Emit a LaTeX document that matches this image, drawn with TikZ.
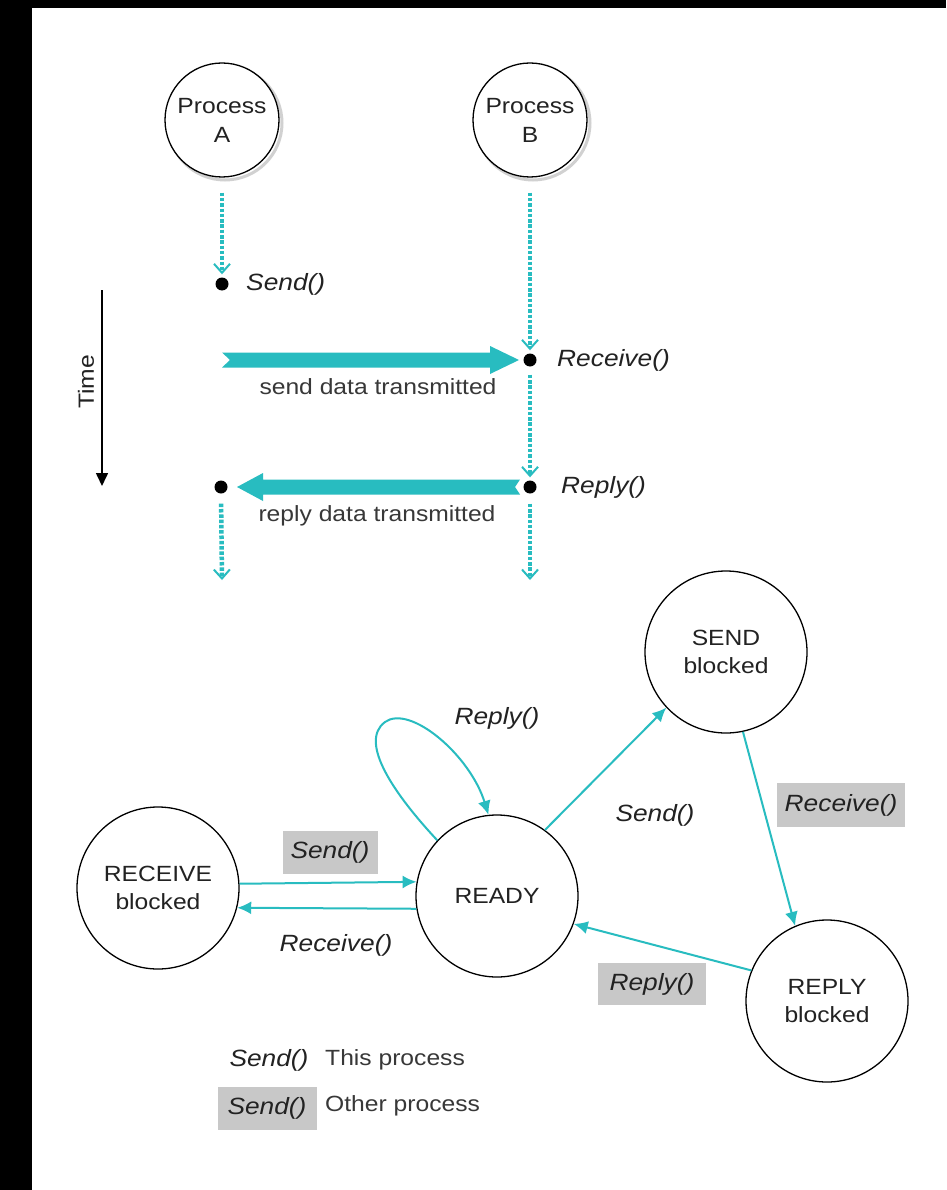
\documentclass[tikz,border=0pt]{standalone}
\usepackage{fontspec}
\setmainfont{Liberation Sans}[FakeStretch=1.12]
\usetikzlibrary{arrows.meta,calc}
\definecolor{flow}{RGB}{40,188,192}
\definecolor{ink}{RGB}{34,34,34}
\definecolor{tag}{RGB}{200,200,200}

\begin{document}
\begin{tikzpicture}[x=1pt,y=-1pt,
  proc/.style={circle,draw=black,line width=1.3pt,fill=white,minimum size=114pt,inner sep=0pt,
    align=center,font=\fontsize{22}{29}\selectfont,text=ink},
  state/.style={circle,draw=black,line width=1.3pt,fill=white,minimum size=162pt,inner sep=0pt,
    align=center,font=\fontsize{22}{28.5}\selectfont,text=ink},
  event/.style={circle,fill=black,inner sep=0pt,minimum size=13pt},
  call/.style={font=\fontsize{23.5}{26}\selectfont\itshape,text=ink,inner sep=0pt},
  othercall/.style={call,fill=tag,inner sep=0pt},
  note/.style={font=\fontsize{22}{26}\selectfont,text=ink!90,inner sep=0pt},
  timeline/.style={flow,line width=4.5pt,dash pattern=on 3.5pt off 1.8pt,
    -{Straight Barb[length=9pt,width=16pt,line width=2pt]}},
  transition/.style={flow,line width=2pt,-{Latex[length=14pt,width=13pt]}},
  shade/.style={draw=black!18,line width=3pt},
]
\useasboundingbox (0,0) rectangle (946,1190);
\fill[white] (0,0) rectangle (946,1190);
\fill[black] (0,0) rectangle (32,1190);
\fill[black] (0,0) rectangle (946,8);

% ---------- message passing over time ----------
\draw[shade] (225,123) circle (57pt);
\draw[shade] (533,123) circle (57pt);
\node[proc] (A) at (222,120) {Process\\A};
\node[proc] (B) at (530,120) {Process\\B};

\node[event] (S1) at (222,284) {};
\node[event] (R1) at (530,360) {};
\node[event] (P1) at (530,487) {};
\node[event] (Q1) at (221,487) {};
\coordinate (Aend) at (222,580);
\coordinate (Bend) at (530,580);
\coordinate (sendtail) at (222,360);

\draw[timeline,shorten <=15pt,shorten >=3pt] (A.south) -- (S1.north);
\draw[timeline,shorten <=15pt,shorten >=3pt] (B.south) -- (R1.north);
\draw[timeline,shorten <=8pt,shorten >=3pt] (R1.south) -- (P1.north);
\draw[timeline,shorten <=10pt] (Q1.south) -- (Aend);
\draw[timeline,shorten <=10pt] (P1.south) -- (Bend);

% send data: notched tail, wide head
\fill[flow] ($(sendtail)+(0,-7.5)$) -- ($(R1)+(-40,-7.5)$) -- ($(R1)+(-40,-14)$)
  -- ($(R1)+(-11,0)$) -- ($(R1)+(-40,14)$) -- ($(R1)+(-40,7.5)$)
  -- ($(sendtail)+(0,7.5)$) -- ($(sendtail)+(8,0)$) -- cycle;
% reply data
\fill[flow] ($(P1)+(-10,-7.5)$) -- ($(Q1)+(42,-7.5)$) -- ($(Q1)+(42,-14)$)
  -- ($(Q1)+(16,0)$) -- ($(Q1)+(42,14)$) -- ($(Q1)+(42,7.5)$)
  -- ($(P1)+(-10,7.5)$) -- ($(P1)+(-15,0)$) -- cycle;

\node[call,anchor=west] (lsend) at (246,284) {Send()};
\node[call,anchor=west] (lrecv) at (557,360) {Receive()};
\node[call,anchor=west] (lrepl) at (561,487) {Reply()};
\node[note] (nsend) at (378,387) {send data transmitted};
\node[note] (nrepl) at (377,516) {reply data transmitted};

\coordinate (ttop) at (102,290);
\coordinate (tend) at (102,486);
\draw[black,line width=1.6pt,-{Triangle[length=13pt,width=12pt]}] (ttop) -- (tend);
\node[note,rotate=90,text=ink] (ltime) at (86,382) {Time};

% ---------- process states ----------
\node[state] (RECV) at (158,888) {RECEIVE\\blocked};
\node[state] (READY) at (497,896) {READY};
\node[state] (SEND) at (726,652) {SEND\\blocked};
\node[state] (REPLY) at (827,1001) {REPLY\\blocked};

\draw[transition] (RECV.3.5) -- (READY.170.8);
\draw[transition] (READY.-171.5) -- (RECV.-14);
\draw[transition] (READY.54) -- (SEND.223);
\draw[transition] (SEND.282) -- (REPLY.113);
\draw[transition] (REPLY.158) -- (READY.-20);
\draw[transition] (READY.137) .. controls (395,795) and (358,742) .. (385,722)
  .. controls (410,704) and (470,755) .. (READY.96);

\node[call] (tloop) at (497,718) {Reply()};
\node[call] (tsend) at (655,815) {Send()};
\node[call] (trecv) at (336,945) {Receive()};
\node[othercall,minimum width=95pt,minimum height=43pt] (osend) at (330,852) {Send()};
\node[othercall,minimum width=128pt,minimum height=44pt] (orecv) at (841,805) {Receive()};
\node[othercall,minimum width=108pt,minimum height=42pt] (orepl) at (652,984) {Reply()};

% ---------- legend ----------
\node[call] (kthis) at (269,1060) {Send()};
\node[note,anchor=west] (kthist) at (325,1060) {This process};
\node[othercall,minimum width=99pt,minimum height=43pt] (kother) at (267,1108) {Send()};
\node[note,anchor=west] (kothert) at (325,1106) {Other process};
\end{tikzpicture}
\end{document}
